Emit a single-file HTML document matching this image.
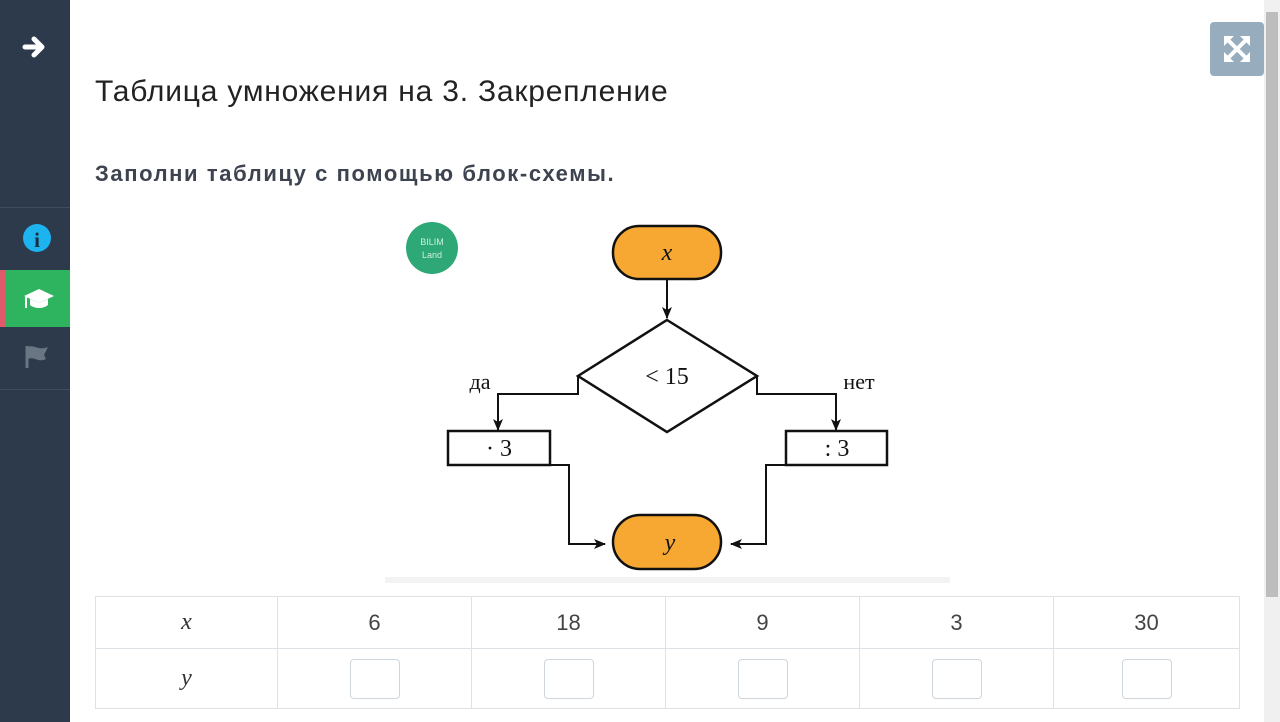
<!DOCTYPE html>
<html><head><meta charset="utf-8"><style>
*{margin:0;padding:0;box-sizing:border-box}
body{width:1280px;height:722px;overflow:hidden;background:#fff;font-family:"Liberation Sans",sans-serif;position:relative}
#side{position:absolute;left:0;top:0;width:70px;height:722px;background:#2c3a4c}
.sep{position:absolute;left:0;width:70px;height:1px;background:#3f4d60}
#title{position:absolute;left:95px;top:75px;font-size:30px;color:#222;letter-spacing:0.8px;white-space:nowrap}
#sub{position:absolute;left:95px;top:161px;font-size:22px;font-weight:bold;color:#3d4450;letter-spacing:1.6px;white-space:nowrap}
table{position:absolute;left:95px;top:596px;border-collapse:collapse;width:1145px}
td{border:1px solid #dde2e6;text-align:center;font-size:22px;color:#444}
.inp{display:inline-block;width:50px;height:40px;border:1px solid #cfd6dc;border-radius:4px;vertical-align:middle}
.m{font-family:"Liberation Serif",serif;font-style:italic;font-size:24px;color:#333}
</style></head><body>
<div id="side">
 <svg width="70" height="400" style="position:absolute;left:0;top:0">
  <path d="M25 47h16M34 39l8 8-8 8" stroke="#fff" stroke-width="5" fill="none" stroke-linecap="round" stroke-linejoin="round"/>
  <circle cx="37" cy="238" r="14" fill="#1cb3ee"/>
  <text x="37" y="247" fill="#1d2b3c" font-family="Liberation Serif" font-weight="bold" font-size="21" text-anchor="middle">i</text>
  <rect x="0" y="270" width="70" height="57" fill="#2eb35e"/>
  <rect x="0" y="270" width="6" height="57" fill="#e05b6a"/>
  <path d="M24 296l15-7 15 7-15 7z" fill="#fff"/><path d="M30 299v6c5 4 13 4 18 0v-6l-9 4z" fill="#fff"/><path d="M26 297v11" stroke="#fff" stroke-width="2"/>
  <path d="M27 346v22" stroke="#6a7684" stroke-width="3"/><path d="M28 347c6-3 10 4 20 0l-4 8 2 4c-8 4-12-3-18 0z" fill="#6a7684"/>
 </svg>
 <div class="sep" style="top:207px"></div>
 <div class="sep" style="top:389px"></div>
</div>
<div style="position:absolute;left:1264px;top:0;width:16px;height:722px;background:#f0f0f0"></div>
<div style="position:absolute;left:1266px;top:12px;width:12px;height:585px;background:#bdbdbd"></div>
<div style="position:absolute;left:1210px;top:22px;width:54px;height:54px;background:#97adbd;border-radius:4px"></div>
<svg width="54" height="54" style="position:absolute;left:1210px;top:22px"><g stroke="#fff" stroke-width="4" stroke-linecap="round"><path d="M17 17l20 20M37 17l-20 20"/></g><g fill="#fff"><path d="M14 14h10l-10 10z"/><path d="M40 14h-10l10 10z"/><path d="M14 40h10l-10-10z"/><path d="M40 40h-10l10-10z"/></g></svg>
<div id="title">Таблица умножения на 3. Закрепление</div>
<div id="sub">Заполни таблицу с помощью блок-схемы.</div>
<svg width="1280" height="722" style="position:absolute;left:0;top:0">
 <defs><marker id="a" markerWidth="12" markerHeight="10" refX="11" refY="5" orient="auto" markerUnits="userSpaceOnUse"><path d="M0 0L12 5L0 10L3 5z" fill="#111"/></marker></defs>
 <circle cx="432" cy="248" r="26" fill="#2fa877"/>
 <text x="432" y="245" fill="#cfeee0" font-size="9" text-anchor="middle">BILIM</text>
 <text x="432" y="258" fill="#cfeee0" font-size="9" text-anchor="middle">Land</text>
 <rect x="613" y="226" width="108" height="53" rx="26" fill="#f7a833" stroke="#111" stroke-width="2.5"/>
 <text x="667" y="260" font-family="Liberation Serif" font-style="italic" font-size="24" text-anchor="middle" fill="#111">x</text>
 <path d="M667 280v38" stroke="#111" stroke-width="2" marker-end="url(#a)"/>
 <path d="M667 320L757 376L667 432L578 376Z" fill="#fff" stroke="#111" stroke-width="2.5"/>
 <text x="667" y="384" font-family="Liberation Serif" font-size="24" text-anchor="middle" fill="#111">&lt; 15</text>
 <path d="M578 376v18h-80v36" stroke="#111" stroke-width="2" fill="none" marker-end="url(#a)"/>
 <path d="M757 376v18h79v36" stroke="#111" stroke-width="2" fill="none" marker-end="url(#a)"/>
 <text x="480" y="389" font-family="Liberation Serif" font-size="22" text-anchor="middle" fill="#111">да</text>
 <text x="859" y="389" font-family="Liberation Serif" font-size="22" text-anchor="middle" fill="#111">нет</text>
 <rect x="448" y="431" width="102" height="34" fill="#fff" stroke="#111" stroke-width="2.5"/>
 <rect x="786" y="431" width="101" height="34" fill="#fff" stroke="#111" stroke-width="2.5"/>
 <text x="499" y="456" font-family="Liberation Serif" font-size="24" text-anchor="middle" fill="#111">· 3</text>
 <text x="837" y="456" font-family="Liberation Serif" font-size="24" text-anchor="middle" fill="#111">: 3</text>
 <path d="M550 465h19v79h36" stroke="#111" stroke-width="2" fill="none" marker-end="url(#a)"/>
 <path d="M786 465h-20v79h-35" stroke="#111" stroke-width="2" fill="none" marker-end="url(#a)"/>
 <rect x="613" y="515" width="108" height="54" rx="27" fill="#f7a833" stroke="#111" stroke-width="2.5"/>
 <text x="670" y="550" font-family="Liberation Serif" font-style="italic" font-size="24" text-anchor="middle" fill="#111">y</text>
 <rect x="385" y="577" width="565" height="6" fill="#f3f3f3"/>
</svg>
<table>
<tr style="height:52px"><td style="width:182px" class="m">x</td><td style="width:194px">6</td><td style="width:194px">18</td><td style="width:194px">9</td><td style="width:194px">3</td><td>30</td></tr>
<tr style="height:60px"><td class="m">y</td><td><span class="inp"></span></td><td><span class="inp"></span></td><td><span class="inp"></span></td><td><span class="inp"></span></td><td><span class="inp"></span></td></tr>
</table>
</body></html>
